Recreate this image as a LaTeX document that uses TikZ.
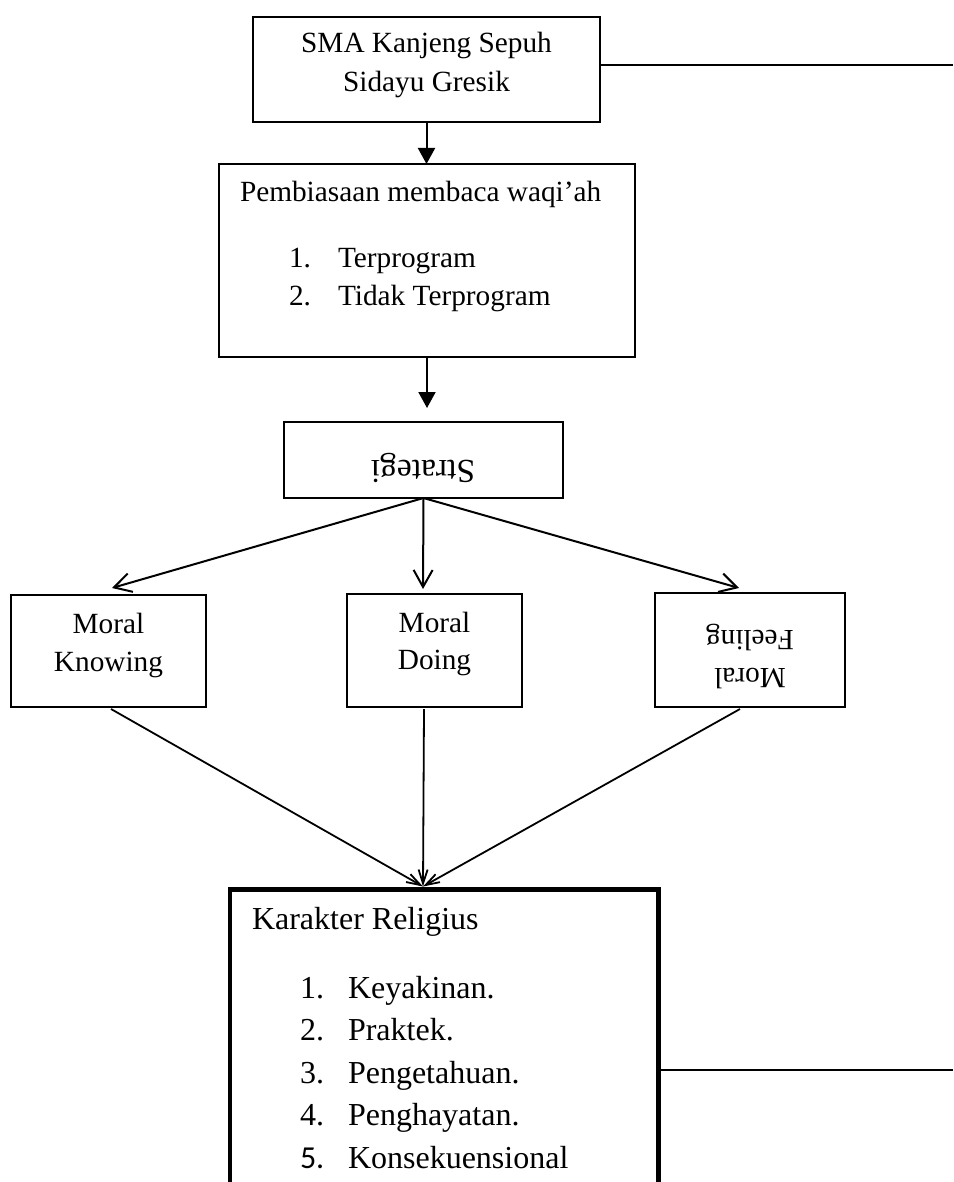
\documentclass[tikz,border=0pt]{standalone}
\usepackage{fontspec}
\setmainfont{Liberation Serif}
\newfontfamily\calib{Carlito}
\usetikzlibrary{arrows.meta,calc}
\begin{document}
\begin{tikzpicture}[x=1pt,y=-1pt,
  box/.style={draw, line width=2pt, inner sep=0pt, outer sep=0pt, rectangle},
  txt/.style={inner sep=0pt, outer sep=0pt, font=\fontsize{29.3}{35}\selectfont},
  ktxt/.style={inner sep=0pt, outer sep=0pt, font=\fontsize{32}{38}\selectfont},
  conn/.style={line width=2pt},
  thinconn/.style={line width=1.8pt},
  bigtip/.style={-{Triangle[length=16pt,width=17pt]}},
  vtip/.style={-{Straight Barb[length=17pt,width=19pt]}},
  stip/.style={-{Straight Barb[length=14pt,width=9pt]}},
]
\useasboundingbox (0,0) rectangle (953,1182);
\clip (0,0) rectangle (953,1182);

% boxes
\node[box, minimum width=347pt, minimum height=105pt] (top) at (426.5,69.5) {};
\node[box, minimum width=416pt, minimum height=193pt] (pem) at (427,260.5) {};
\node[box, minimum width=279pt, minimum height=76pt] (str) at (423.5,460) {};
\node[box, minimum width=195pt, minimum height=112pt] (mk) at (108.5,651) {};
\node[box, minimum width=175pt, minimum height=113pt] (md) at (434.5,650.5) {};
\node[box, minimum width=190pt, minimum height=114pt] (mf) at (750,650) {};
\node[draw, line width=4.5pt, inner sep=0pt, outer sep=0pt, minimum width=428.5pt, minimum height=400pt] (kar) at (444,1089.5) {};

% texts
\node[txt, anchor=base] (t1a) at (426.5,53) {SMA Kanjeng Sepuh};
\node[txt, anchor=base] (t1b) at (426.5,92) {Sidayu Gresik};

\node[txt, anchor=base west] (t2) at (240,202) {Pembiasaan membaca waqi’ah};
\node[txt, anchor=base west] (t2n1) at (289,267) {1.};
\node[txt, anchor=base west] (t2i1) at (338,267) {Terprogram};
\node[txt, anchor=base west] (t2n2) at (289,305) {2.};
\node[txt, anchor=base west] (t2i2) at (338,305) {Tidak Terprogram};

\node[txt, anchor=base, rotate=180, font=\fontsize{33.5}{38}\selectfont] (t3) at (423,460) {Strategi};

\node[txt, anchor=base] (mka) at (108.5,633) {Moral};
\node[txt, anchor=base] (mkb) at (108.5,671) {Knowing};
\node[txt, anchor=base] (mda) at (434.5,632) {Moral};
\node[txt, anchor=base] (mdb) at (434.5,669) {Doing};
\node[txt, anchor=base, rotate=180] (mfa) at (750,668) {Moral};
\node[txt, anchor=base, rotate=180] (mfb) at (750,630) {Feeling};

\node[ktxt, anchor=base west] (kt) at (252,929) {Karakter Religius};
\node[ktxt, anchor=base west] (kn1) at (300,998) {1.};
\node[ktxt, anchor=base west] (ki1) at (348,998) {Keyakinan.};
\node[ktxt, anchor=base west] (kn2) at (300,1040) {2.};
\node[ktxt, anchor=base west] (ki2) at (348,1040) {Praktek.};
\node[ktxt, anchor=base west] (kn3) at (300,1083) {3.};
\node[ktxt, anchor=base west] (ki3) at (348,1083) {Pengetahuan.};
\node[ktxt, anchor=base west] (kn4) at (300,1125) {4.};
\node[ktxt, anchor=base west] (ki4) at (348,1125) {Penghayatan.};
\node[ktxt, anchor=base west] (kn5) at (300,1168) {\calib 5.};
\node[ktxt, anchor=base west] (ki5) at (348,1168) {Konsekuensional};

% connectors
\draw[conn, bigtip] (top.south) -- (top.south |- pem.north);
\draw[conn, bigtip, shorten >=14pt] (pem.south) -- (pem.south |- str.north);

\draw[conn, vtip] (str.south) -- ([xshift=3.5pt, yshift=7pt]mk.north);
\draw[conn, vtip] (str.south) -- ([xshift=-11.5pt, yshift=5pt]md.north);
\draw[conn, vtip] (str.south) -- ([xshift=-11pt, yshift=5pt]mf.north);

\draw[thinconn, stip] ([xshift=2.5pt, yshift=-2pt]mk.south) -- ([xshift=-21pt, yshift=3pt]kar.north);
\draw[thinconn, stip] ([xshift=-10.5pt, yshift=-2pt]md.south) -- ([xshift=-21pt, yshift=3pt]kar.north);
\draw[thinconn, stip] ([xshift=-10pt, yshift=-2pt]mf.south) -- ([xshift=-21pt, yshift=3pt]kar.north);

\coordinate (r1) at (953,65);
\coordinate (r2) at (953,1070);
\draw[line width=1.8pt] (top.east |- r1) -- (r1);
\draw[line width=1.8pt] (kar.east |- r2) -- (r2);
\end{tikzpicture}
\end{document}
